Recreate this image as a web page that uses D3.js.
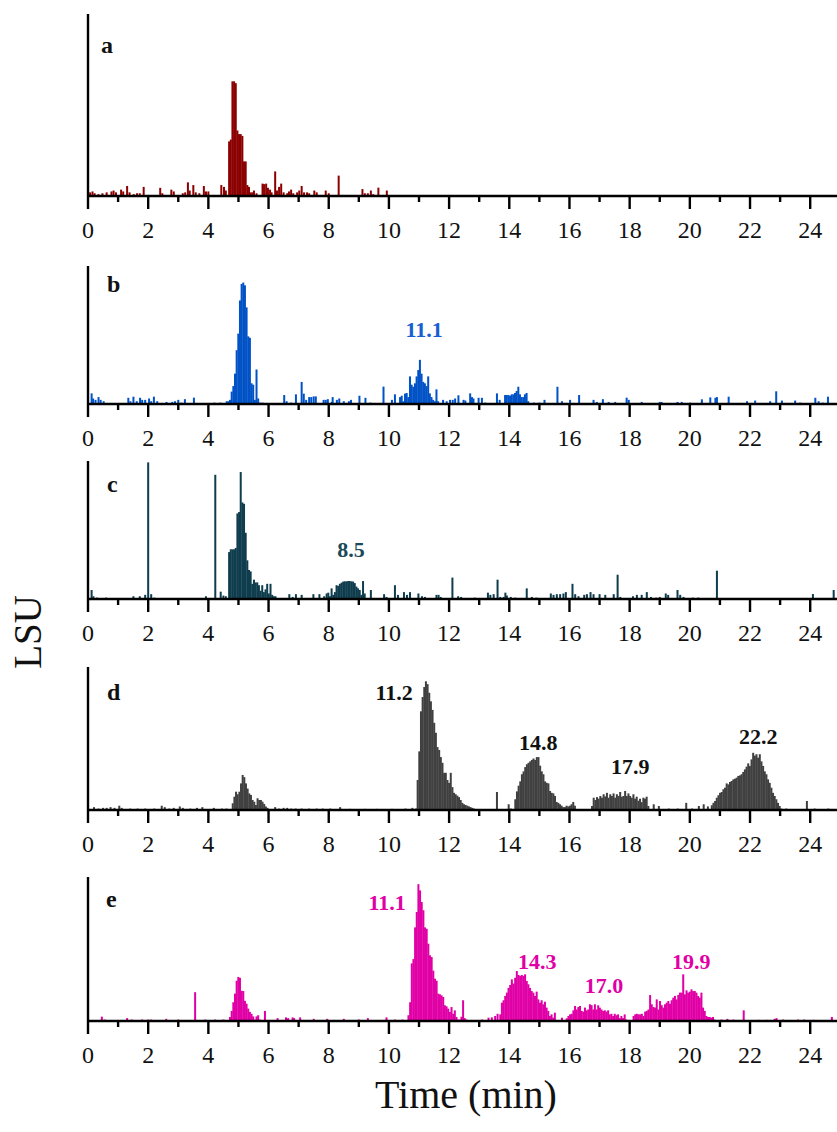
<!DOCTYPE html>
<html>
<head>
<meta charset="utf-8">
<script src="https://cdn.jsdelivr.net/npm/d3@7"></script>
<style>
  html, body { margin: 0; padding: 0; background: #fff; }
  svg { display: block; }
</style>
</head>
<body>
<svg id="chart" width="837" height="1132"></svg>
<script>
// ---- data -------------------------------------------------------------
// Time axis (min) and its ticks
const timeDomain = [0, 25];
const majorTicks = d3.range(0, 25, 2);
const minorTicks = d3.range(1, 25, 2);
// Sampling interval of the detector trace (min) for contiguous runs
const STEP = 0.055;

// Each trace: isolated spikes [time, LSU] and contiguous runs [startTime, [LSU...]]
// LSU values are relative (0-100 = full height of the panel's axis)
const spikesA = [[0.00,13],[0.07,2],[0.15,2.5],[0.22,1.5],[0.35,1],[0.48,1.5],[0.62,2],[0.78,2.5],[0.85,3],[0.93,2],
  [1.10,3.5],[1.17,2.5],[1.30,5.5],[1.38,2],[1.52,1],[1.63,1.5],[1.72,1.5],[1.85,5],[2.40,4.5],[2.47,1.5],[2.77,3.5],
  [2.85,2.5],[3.15,1.5],[3.23,2],[3.32,7.5],[3.38,3],[3.50,6],[3.58,2],[3.70,1.5],[3.85,5.5],[3.92,2.5],[4.00,2.5],
  [4.43,6],[4.52,5],[4.58,3],[5.60,1.5],[5.80,6.8],[5.85,6.5],[5.92,6.8],[5.98,4.5],[6.05,3.5],[6.10,2],[6.22,13.5],
  [6.28,3],[6.35,5],[6.42,6.8],[6.50,2],[6.62,1.5],[6.68,2.5],[6.75,3.5],[6.82,1.5],[6.95,2],[7.02,3],[7.10,5.5],
  [7.18,2],[7.28,2],[7.35,1.5],[7.52,3],[7.60,2],[7.90,3],[8.00,1.5],[8.33,11.2],[9.12,3.8],[9.20,1.5],[9.30,1.5],
  [9.40,3],[9.48,1],[9.65,4.6],[9.93,3]];
const runsA = [[4.69,[30,31,63,63,62,36,34,34,33,19,19,6,5,2,2,3]]];

const spikesB = [[0.12,7.7],[0.17,4],[0.25,3],[0.35,5],[0.42,3],[0.52,2],[1.34,4.5],[1.41,2],[1.51,5.3],[1.62,2],
  [1.73,4.5],[1.80,3],[1.90,3],[2.03,4],[2.10,2],[2.19,5.3],[2.30,2],[2.61,1.5],[2.80,1.5],[2.89,2],[3.00,3],[3.10,1],
  [3.22,3.5],[3.52,4.6],[4.20,1],[4.40,1],[5.80,1],[6.52,6.5],[6.60,2],[6.75,1],[6.91,7],[7.10,16],[7.17,7.5],[7.25,3],
  [7.35,5],[7.42,5],[7.50,5.5],[7.57,5.5],[7.83,3],[7.90,3],[7.97,3.5],[8.10,1.5],[8.13,5],[8.27,3],[8.35,4],[8.50,2],
  [8.67,2],[8.74,3],[9.02,6],[9.22,4.5],[9.38,1],[9.82,12.6],[10.10,3],[10.20,7],[11.80,3],[11.92,2],[12.03,3],
  [12.12,3],[12.20,4],[12.31,6.3],[12.48,3],[12.54,2.5],[12.70,7.7],[12.76,5],[12.81,4],[12.98,4.5],[13.09,4.5],
  [13.20,1],[13.59,7.7],[13.68,3],[14.40,1],[14.60,1],[14.82,1],[15.00,1],[15.17,3],[15.60,12.5],[15.75,2],[16.02,3],
  [16.32,6.5],[16.80,3],[16.91,1.5],[17.11,3.5],[17.30,1.5],[17.52,1.5],[17.90,4.6],[17.97,3],[18.40,1.5],[19.00,1.5],
  [19.06,1.5],[19.59,1.5],[19.73,1.5],[20.01,1],[20.40,3.4],[20.68,4.8],[20.85,4.5],[20.90,5],[21.29,5.3],[21.90,2],
  [22.17,2.5],[22.67,2],[22.87,9.2],[23.06,2.5],[23.50,2.5],[23.67,1],[24.17,4.5],[24.28,2],[24.42,1],[24.59,5.3]];
const runsB = [
  [4.61,[2,2,3,9,13,22,39,51,75,87,88,86,70,49,48,15,14,3,25,4,1]],
  [10.37,[5,6,2,7.5,8,5,20,14,12.5,15,20,24.6,32,22,16,15,13,20,7.7,5,3,2,10.6,2]],
  [13.86,[6.5,6.5,6.5,6,7,7,8,9.4,12.5,7,5,5,7,8,2]]
];

const spikesC = [[0.12,6.5],[0.18,2],[0.30,1],[0.60,1],[1.51,2],[1.72,2],[1.90,3],[2.00,99],[2.10,3.5],[2.20,1],
  [3.92,2],[4.23,90],[4.41,5.3],[4.50,2.5],[4.58,2],[6.69,3.5],[6.80,1.5],[6.91,3.5],[7.10,3],[7.49,3.5],[7.69,3.5],
  [7.85,2],[9.40,6.5],[9.84,3.5],[9.92,1.5],[10.20,10],[10.30,3],[10.50,5],[10.60,3],[10.70,5],[10.98,4],[11.10,2],
  [11.20,1.5],[11.58,3],[11.65,3],[11.72,1.5],[12.11,15.5],[12.30,2],[12.40,1.5],[12.85,1],[13.29,4.6],[13.37,3],
  [13.48,3.5],[13.61,14],[13.70,1.5],[13.81,1.5],[13.87,4.6],[13.92,2.5],[14.05,1.5],[14.20,1],[14.58,7.7],[14.75,1.5],
  [14.90,1],[15.38,4],[15.47,3],[15.58,3.5],[15.69,3.5],[15.80,4],[15.88,5],[16.10,11],[16.19,3.5],[16.30,2],
  [16.49,3],[16.58,3.5],[16.70,5],[16.80,3.5],[17.00,3.5],[17.19,3],[17.47,3.5],[17.60,17.6],[17.69,1.5],[18.11,2],
  [18.24,3],[18.40,3],[18.57,5],[18.71,1.5],[18.88,1],[19.00,1.5],[19.20,4],[19.28,3],[19.59,6.5],[19.68,3],
  [19.79,1.5],[20.10,1],[20.28,1],[20.47,0.5],[20.90,20.5],[22.16,0.5],[24.09,3.6],[24.78,6.5]];
const runsC = [
  [4.69,[34,36,36,36,37,62,63,92,70,69,48,28,21,20,11,14,12,12,10,6,10,5,7,11,4,11,3,2,2]],
  [7.93,[4,4.6,2,7.7,3,5,10,9.5,11,11.8,12.6,12.8,12.8,13,13,12.8,12.6,11.5,9,7.7,6.5,3,13,4]]
];

const spikesD = [[0.20,2],[0.35,1],[0.50,1.5],[0.62,1.5],[0.75,2],[0.88,1.5],[1.04,3],[1.12,1.5],[1.40,1],[1.65,1],
  [1.90,1],[2.20,1],[2.45,3],[2.55,2],[2.70,1],[2.85,1.5],[3.05,2.5],[3.15,1.5],[3.40,1],[3.62,1.5],[3.80,2],[4.18,1.5],
  [4.45,1],[4.60,1],[6.22,2],[6.35,1],[6.50,1.5],[6.62,1.5],[6.75,1],[6.90,1],[7.10,1],[7.35,1],[7.60,1],[7.80,1],
  [8.05,1],[8.38,2],[8.70,0.8],[9.20,0.8],[9.60,0.8],[10.10,0.8],[10.55,1],[10.78,1.5],[13.59,12.6],[13.98,4],
  [14.05,1],[18.80,4],[18.97,2.8],[19.30,1],[19.60,1],[19.88,5],[20.07,1],[20.30,2.8],[20.46,4],[20.60,2.5],
  [23.20,1],[23.89,6.3],[24.15,1],[24.60,1]];
const runsD = [
  [4.81,[4.7,9.3,12.8,11,12.8,18.6,24.5,23,18.6,15,11.6,10.5,7,5.8,3.5,8.2,7,7,5.8,4.2,2.5,1.5]],
  [10.90,[1,21,41,69,79,86,90,88,82,76,70,61,54,44,42,37,33,26,26,21,19,26,16,12,11,10,9,7,5,4,3.5,3,2.5,2,1.5,1]],
  [14.20,[7.5,13,17,20,25,27,30,32,33,34,35,36,35,37,37,31,27,25,20,19,18.6,13.3,12,11.6,9.8,5.6,5,4,3,2,2,3,2.5,3,4,5.6,3]],
  [16.75,[2.8,8.6,7,9,7.9,9.8,8.6,11,9.5,12,8.6,11,9.8,11.6,8.6,11,9.8,12.6,9.3,9.8,13.3,9.8,11.6,9.8,8.6,11,7.9,9.3,6.5,7.9,5.5,8.6,7.9,9.3,2.8]],
  [20.73,[3.3,5,6.3,8.6,10.3,12,12.6,14.5,15.6,18.6,17.9,19.6,20.3,21.4,21.9,22.6,23.8,24.2,25,26.6,28.4,30.3,32.6,30.8,35.4,40,38,39,36.6,39,34,30.8,27,25,21.4,19,15.6,12,9.8,7.5,5,2.8,1]]
];

const spikesE = [[0.46,3],[0.55,1],[1.30,2],[1.45,1],[1.80,1],[2.00,1],[2.10,1],[2.60,1.5],[3.00,1],[3.56,20],
  [3.90,1],[4.22,1],[4.50,1],[5.88,7],[6.30,2],[6.58,2.5],[6.65,2],[6.80,2.5],[6.85,2],[7.05,2.5],[7.50,1.5],[7.95,1.5],
  [8.50,1.5],[9.00,1],[9.30,2],[9.92,2.5],[10.20,1],[10.45,1],[12.80,0.5],[13.10,1],[13.31,2.3],[13.42,2.5],[13.53,3.5],
  [13.61,5],[15.75,2.3],[21.05,1],[21.25,1.5],[21.45,1],[21.79,7.4],[22.28,0.8],[22.55,0.8],[22.82,1.5],[22.88,2],
  [23.10,1],[23.60,1],[23.80,1],[24.10,0.8],[24.72,2.8]];
const runsE = [
  [4.72,[2.8,7,13,19,28,30.6,30,21,20.8,14,12,8.6,6.3,5,3.2,1,3.2,4,1]],
  [10.65,[4,13,40,43,65,75.7,95,90.7,82.6,76.9,65,64,53.7,45.6,44.4,35,29.4,28,19,18.5,17.8,16.7,10.9,10.2,8.6,6.3,9.7,5,7.4,2.8,1,1,3,14.4,2,1]],
  [13.70,[4.6,12.7,14.4,17.4,19.7,23,25,28.9,26,30,34.7,32,31.3,32,31.3,32.4,27.8,25.5,23,20.8,19.7,17.4,20.4,15,12.7,14.4,11.6,13.4,9.3,7,3.5,4.6,2.3,5.8]],
  [15.91,[1.9,3.5,4.6,5,7.4,10.4,8,9.7,10.4,7,6.5,9.3,7.4,8,11.6,11,8,11.6,8,10.9,9.3,8,7,7.4,6.5,7.4,4.6,5,3.5,5,4,4.6,2,3.5,2,4.6,1]],
  [18.13,[3.5,4.6,5,4.6,4.6,5,3.5,6.5,7,8,18,11.6,9.7,9.3,15,8,13.9,11,9.3,11.6,12.7,13.9,12,14.4,16.2,17.4,15,18,19.7,19.7,32.4,18.5,21.3,19.7,20.4,22,20.8,20.8,19.7,17.4,16.2,19.7,9.3,7,3.5,2.8,2.8,2.3,2.8,1]]
];

// Retention-time annotations: [text, time, LSU]
const labelsA = [];
const labelsB = [["11.1", 11.17, 54]];
const labelsC = [["8.5", 8.74, 36]];
const labelsD = [["11.2", 10.17, 82], ["14.8", 14.96, 47.6], ["17.9", 18.02, 30.8], ["22.2", 22.27, 51.7]];
const labelsE = [["11.1", 9.94, 82.4], ["14.3", 14.93, 41.5], ["17.0", 17.15, 24.8], ["19.9", 20.05, 41.5]];

// ---- layout ----------------------------------------------------------
const panels = [
  { id: "a", top: 14,  base: 196,  color: "#8b0000", label: "#8b0000", spikes: spikesA, runs: runsA, notes: labelsA, letter: [101, 53] },
  { id: "b", top: 266, base: 404,  color: "#0052c6", label: "#1a5fcf", spikes: spikesB, runs: runsB, notes: labelsB, letter: [107, 292] },
  { id: "c", top: 461, base: 599,  color: "#0f3d4d", label: "#1a4a5a", spikes: spikesC, runs: runsC, notes: labelsC, letter: [107, 492] },
  { id: "d", top: 667, base: 810,  color: "#404040", label: "#111111", spikes: spikesD, runs: runsD, notes: labelsD, letter: [107, 700] },
  { id: "e", top: 877, base: 1021, color: "#e000a6", label: "#e000a6", spikes: spikesE, runs: runsE, notes: labelsE, letter: [106, 907] }
];

const serif = "'Liberation Serif', 'Times New Roman', serif";
const svg = d3.select("#chart");
const x = d3.scaleLinear().domain(timeDomain).range([88, 840.3]);
const barW = (x(STEP) - x(0)) + 0.35;
const lineW = 2.4;

panels.forEach(p => {
  const y = d3.scaleLinear().domain([0, 100]).range([p.base, p.top]);
  const g = svg.append("g").attr("class", "panel-" + p.id);

  const pts = p.spikes.map(([t, v]) => ({ t, v }));
  p.runs.forEach(([start, vals]) => vals.forEach((v, i) => pts.push({ t: start + i * STEP, v })));

  g.append("g").selectAll("rect").data(pts).join("rect")
    .attr("x", d => x(d.t) - barW / 2)
    .attr("width", barW)
    .attr("y", d => y(d.v))
    .attr("height", d => y(0) - y(d.v))
    .attr("fill", p.color);

  // minor ticks
  g.append("g")
    .attr("transform", `translate(0,${p.base})`)
    .call(d3.axisBottom(x).tickValues(minorTicks).tickSize(6).tickFormat("").offset(0))
    .call(s => s.select(".domain").remove())
    .call(s => s.selectAll(".tick line").attr("stroke", "#000").attr("stroke-width", lineW));

  // major ticks + labels
  g.append("g")
    .attr("transform", `translate(0,${p.base})`)
    .call(d3.axisBottom(x).tickValues(majorTicks).tickSize(13).tickSizeOuter(0).tickFormat(d3.format("d")).offset(0))
    .call(s => s.select(".domain").attr("stroke", "#000").attr("stroke-width", lineW))
    .call(s => s.selectAll(".tick line").attr("stroke", "#000").attr("stroke-width", lineW))
    .call(s => s.selectAll(".tick text")
      .attr("y", 42).attr("dy", 0)
      .attr("fill", "#111")
      .style("font-family", serif)
      .style("font-size", "24px"));

  // vertical axis line
  g.append("g")
    .attr("transform", "translate(88,0)")
    .call(d3.axisLeft(y).tickValues([]).tickSizeOuter(0).offset(0))
    .call(s => s.select(".domain").attr("stroke", "#000").attr("stroke-width", lineW));

  // panel letter
  g.append("text")
    .attr("x", p.letter[0]).attr("y", p.letter[1])
    .attr("fill", "#111")
    .style("font-family", serif).style("font-weight", "bold").style("font-size", "24px")
    .text(p.id);

  // retention-time annotations
  g.selectAll("text.note").data(p.notes).join("text")
    .attr("class", "note")
    .attr("x", d => x(d[1]))
    .attr("y", d => y(d[2]))
    .attr("dy", "0.35em")
    .attr("text-anchor", "middle")
    .attr("fill", p.label)
    .style("font-family", serif).style("font-weight", "bold").style("font-size", "22px")
    .text(d => d[0]);
});

// axis titles
svg.append("text")
  .attr("transform", "translate(41,632) rotate(-90)")
  .attr("text-anchor", "middle")
  .attr("fill", "#111")
  .style("font-family", serif).style("font-size", "39px")
  .text("LSU");

svg.append("text")
  .attr("x", 466).attr("y", 1108)
  .attr("text-anchor", "middle")
  .attr("fill", "#111")
  .style("font-family", serif).style("font-size", "40px")
  .text("Time (min)");
</script>
</body>
</html>
